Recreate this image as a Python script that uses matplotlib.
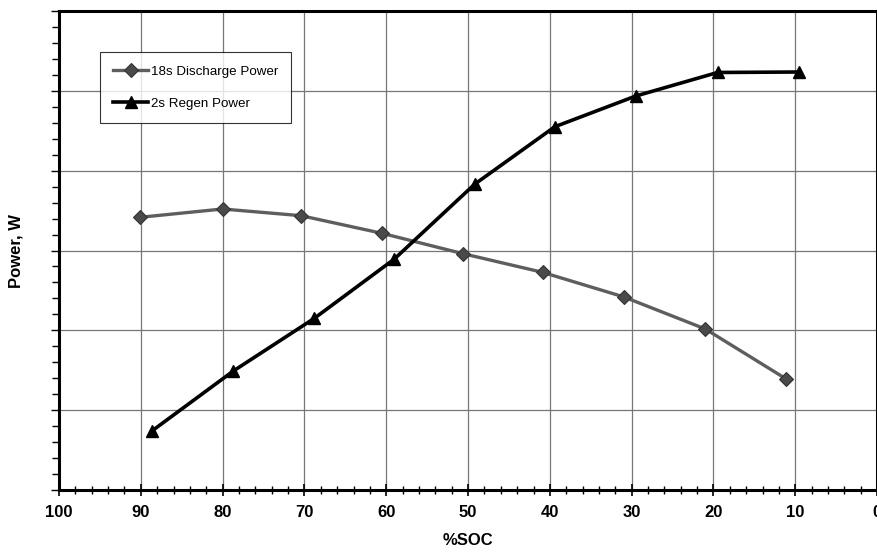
import matplotlib
matplotlib.use("Agg")
import matplotlib.pyplot as plt
from matplotlib.ticker import MultipleLocator, NullFormatter

plt.rcParams["font.family"] = ["Liberation Sans", "DejaVu Sans"]

# state of charge (%) and power readings
soc_discharge = [90.1, 80.0, 70.4, 60.5, 50.6, 40.9, 31.0, 21.0, 11.1]
discharge_power = [341.6, 352.0, 343.6, 321.5, 296.0, 272.7, 242.0, 201.7, 139.0]

soc_regen = [88.6, 78.7, 68.8, 59.05, 49.2, 39.4, 29.5, 19.5, 9.5]
regen_power = [74.3, 149.0, 215.0, 289.0, 383.0, 455.0, 493.5, 523.0, 523.6]

x_ticks = list(range(100, -1, -10))

fig = plt.figure(figsize=(8.78, 5.53), dpi=100)
ax = fig.add_axes([0.0672, 0.1139, 0.9318, 0.8662])

ax.plot(soc_discharge, discharge_power, color="#5e5e5e", lw=2.4,
        marker="D", ms=7, mfc="#4a4a4a", mec="#333333", mew=0.8,
        label="18s Discharge Power", zorder=3)
ax.plot(soc_regen, regen_power, color="black", lw=2.6,
        marker="^", ms=9, mfc="black", mec="black",
        label="2s Regen Power", zorder=4)

ax.set_xlim(100, 0)
ax.set_ylim(0, 600)
ax.set_xticks(x_ticks)
ax.set_xticklabels([str(t) for t in x_ticks])
ax.xaxis.set_minor_locator(MultipleLocator(2))
ax.yaxis.set_major_locator(MultipleLocator(100))
ax.yaxis.set_minor_locator(MultipleLocator(20))
ax.yaxis.set_major_formatter(NullFormatter())

ax.grid(True, which="major", color="#777777", lw=0.9)
ax.set_axisbelow(True)

for s in ax.spines.values():
    s.set_linewidth(2.2)
    s.set_color("black")

ax.tick_params(axis="x", which="major", direction="inout", length=9, width=1.2,
               labelsize=12, pad=6)
ax.tick_params(axis="x", which="minor", direction="inout", length=6, width=1.0)
ax.tick_params(axis="y", which="major", direction="out", length=6, width=1.0)
ax.tick_params(axis="y", which="minor", direction="out", length=5, width=1.0)
for lab in ax.get_xticklabels():
    lab.set_fontweight("bold")

ax.set_xlabel("%SOC", fontsize=12, fontweight="bold", labelpad=10)
ax.set_ylabel("Power, W", fontsize=12, fontweight="bold")
ax.yaxis.set_label_coords(-0.044, 0.5)

leg = ax.legend(loc="upper left", bbox_to_anchor=(0.05, 0.914), fontsize=9.6,
                frameon=True, fancybox=False, shadow=False, borderpad=1.0,
                labelspacing=1.45, handlelength=2.6, handletextpad=0.2,
                borderaxespad=0)
leg.get_frame().set_edgecolor("black")
leg.get_frame().set_linewidth(0.8)

fig.savefig("out.png", dpi=100)
